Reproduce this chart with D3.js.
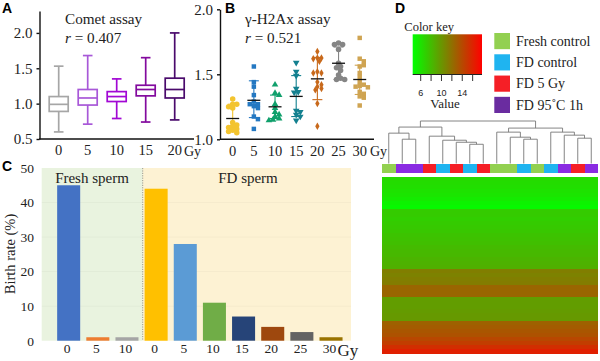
<!DOCTYPE html>
<html><head><meta charset="utf-8">
<script src="https://cdn.jsdelivr.net/npm/d3@7/dist/d3.min.js"></script>
<style>
html,body{margin:0;padding:0;background:#fff}
svg{display:block}
text{font-family:"Liberation Serif",serif;fill:#222}
.letter{font-family:"Liberation Sans",sans-serif;font-weight:700;font-size:14px;fill:#000}
.axis text{font-family:"Liberation Serif",serif;fill:#222}
.axis path,.axis line{stroke:#111}
</style></head><body>
<svg id="c" width="600" height="361"></svg>
<script>
// ---- Panel A
const doseA = ["0","5","10","15","20"];
const whiskerLowA  = [0.60,0.71,0.79,0.74,0.77];
const q1A          = [0.89,0.98,1.03,1.11,1.08];
const medianA      = [0.99,1.08,1.10,1.20,1.20];
const q3A          = [1.10,1.20,1.17,1.26,1.36];
const whiskerHighA = [1.53,1.68,1.35,1.65,2.00];
const colorsA = ["#a6a6a6","#a858d8","#a208d4","#830a9e","#4a0a6c"];
const ticksA = [0.5,1.0,1.5,2.0];

// ---- Panel B
const doseB = ["0","5","10","15","20","25","30"];
const pointsB = [
 [1.31,1.27,1.27,1.25,1.24,1.13,1.11,1.10,1.09,1.08,1.07,1.06,1.05],
 [1.56,1.44,1.405,1.34,1.29,1.27,1.27,1.255,1.24,1.175,1.155,1.08],
 [1.42,1.355,1.34,1.27,1.24,1.21,1.19,1.175,1.16,1.15,1.145],
 [1.59,1.52,1.49,1.39,1.365,1.36,1.22,1.21,1.19,1.175,1.145],
 [1.675,1.625,1.625,1.62,1.60,1.52,1.51,1.51,1.44,1.42,1.405,1.39,1.38,1.275,1.10],
 [1.74,1.73,1.73,1.69,1.585,1.56,1.55,1.53,1.495,1.47,1.46,1.46],
 [1.78,1.62,1.60,1.56,1.57,1.51,1.48,1.44,1.42,1.41,1.405,1.40,1.365,1.35,1.33,1.32,1.26]
];
const meanB = [1.16,1.30,1.25,1.33,1.465,1.585,1.46];
const sdLowB  = [1.06,1.167,1.16,1.175,1.305,1.46,1.345];
const sdHighB = [1.27,1.45,1.34,1.49,1.63,1.71,1.57];
const colorsB = ["#f3c42f","#2478c2","#10a06c","#13808f","#c8691b","#858585","#cfa452"];
const shapesB = ["circle","square","up","down","diamond","circle","square"];
const ticksB = [1.0,1.5,2.0];

// ---- Panel C
const doseC = ["0","5","10","0","5","10","15","20","25","30"];
const birthRate = [45,1,1,44,28,11,7,4,2.5,1];
const colorsC = ["#4472c4","#ed7d31","#a5a5a5","#ffc000","#5b9bd5","#70ad47","#264478","#9e480e","#636363","#997300"];
const ticksC = [0,10,20,30,40,50];

// ---- Panel D
const legendLabels = ["Fresh control","FD control","FD 5 Gy","FD 95˚C 1h"];
const legendColors = ["#92d050","#1fb4f0","#f51f26","#6a2ca0"];
const stripColors  = ["#92d050","#1fb4f0","#f51f26","#8a2be2"];
const sampleGroups = [0,3,3,2,1,2,1,2,0,0,1,0,1,3,2,3];
const keyTicks = [6,8,10,12,14,16];
const keyLabels = [6,10,14];
const rowValues = [6.4,6.3,6.2,6.0,5.8,5.5,5.1,4.8,
  7.2,7.2,7.0,7.2,7.3,
  7.4,7.6,7.7,7.8,8.0,8.1,8.2,8.4,8.5,8.6,
  11.2,11.0,11.2,11.3,
  12.5,12.5,12.5,
  9.6,9.6,9.6,9.7,9.8,9.8,
  12.7,13.0,13.3,13.5,14.1,14.6,15.4,16.2];
// merge heights of the sample dendrogram; leaves are column indices
const tree = {h:42,c:[
  {h:36,c:[
    {h:30,c:[{i:0},{h:24,c:[{i:1},{i:2}]}]},
    {h:27,c:[{i:3},{h:23,c:[{i:4},{h:21,c:[{i:5},{h:19,c:[{i:6},{i:7}]}]}]}]}
  ]},
  {h:35,c:[
    {h:31,c:[{i:8},{h:26,c:[{i:9},{h:24,c:[{i:10},{i:11}]}]}]},
    {h:31,c:[{i:12},{h:28,c:[{i:13},{h:25,c:[{i:14},{i:15}]}]}]}
  ]}
]};

const svg = d3.select("#c");
const txt = (g,x,y,s,size,anchor) => g.append("text").attr("x",x).attr("y",y).attr("font-size",size).attr("text-anchor",anchor||"start").text(s);
const letter = (x,y,s) => svg.append("text").attr("class","letter").attr("x",x).attr("y",y).text(s);

function axes(yScale, band, tickVals, baseX0, baseX1, axisX, axisY, fmt, size){
  const gy = svg.append("g").attr("class","axis").attr("transform",`translate(${axisX},0)`)
    .call(d3.axisLeft(yScale).tickValues(tickVals).tickFormat(fmt).tickSize(3).tickSizeOuter(0));
  gy.selectAll("text").attr("font-size",size).attr("dx",-1);
  gy.selectAll("path,line").attr("stroke-width",1.4);
  const gx = svg.append("g").attr("class","axis").attr("transform",`translate(0,${axisY})`)
    .call(d3.axisBottom(band).tickSize(0).tickPadding(6));
  gx.select("path").remove();
  gx.selectAll("text").attr("font-size",14.5);
  svg.append("line").attr("x1",baseX0).attr("x2",baseX1).attr("y1",axisY).attr("y2",axisY)
    .attr("stroke","#111").attr("stroke-width",1.4);
}

// ===== A =====
const yA = d3.scaleLinear().domain([0.5,2.31]).range([139,11]);
const xA = d3.scaleBand().domain(doseA).range([44.2,189.2]);
axes(yA,xA,ticksA,39,194,39.5,139,d3.format(".1f"),15);
letter(2,13,"A");
txt(svg,65,24,"Comet assay",15.2);
const rA = txt(svg,65,42.5,"",15.2);
rA.append("tspan").attr("font-style","italic").text("r");
rA.append("tspan").text(" = 0.407");
txt(svg,184,156,"Gy",14);
doseA.forEach((d,i)=>{
  const g = svg.append("g").attr("stroke",colorsA[i]).attr("fill","none").attr("stroke-width",1.7);
  const cx = xA(d)+xA.bandwidth()/2, bw=9.5, cw=4.8;
  g.append("line").attr("x1",cx).attr("x2",cx).attr("y1",yA(whiskerLowA[i])).attr("y2",yA(q1A[i]));
  g.append("line").attr("x1",cx).attr("x2",cx).attr("y1",yA(q3A[i])).attr("y2",yA(whiskerHighA[i]));
  [whiskerLowA[i],whiskerHighA[i],medianA[i]].forEach((v,k)=>{
    const w = k===2?bw:cw;
    g.append("line").attr("x1",cx-w).attr("x2",cx+w).attr("y1",yA(v)).attr("y2",yA(v));
  });
  g.append("rect").attr("x",cx-bw).attr("width",2*bw).attr("y",yA(q3A[i])).attr("height",yA(q1A[i])-yA(q3A[i]));
});

// ===== B =====
const yB = d3.scaleLinear().domain([1,2]).range([139.3,9.3]);
const xB = d3.scaleBand().domain(doseB).range([222.1,370.3]);
axes(yB,xB,ticksB,220,374,220,139.3,d3.format(".1f"),15);
letter(225,13,"B");
txt(svg,245,24,"γ-H2Ax assay",15.2);
const rB = txt(svg,245,42.5,"",15.2);
rB.append("tspan").attr("font-style","italic").text("r");
rB.append("tspan").text(" = 0.521");
txt(svg,370,156,"Gy",14);
const symbolFor = {
  circle:d3.symbol(d3.symbolCircle,24)(),
  square:d3.symbol(d3.symbolSquare,20)(),
  diamond:d3.symbol(d3.symbolDiamond,16)(),
  up:d3.symbol(d3.symbolTriangle,19)(),
  down:d3.symbol(d3.symbolTriangle,19)()
};
function dodge(vals, scale, gap){          // centred scatter-dot layout
  const placed=[];
  return vals.map(v=>{
    const y=scale(v);
    let k=0, dx=0;
    while(placed.some(p=>Math.hypot(p.dx-dx,p.y-y)<gap)){
      k++; dx=(k%2?1:-1)*Math.ceil(k/2)*gap*0.6;
    }
    placed.push({dx,y});
    return {dx,y};
  });
}
doseB.forEach((d,i)=>{
  const cx = xB(d)+xB.bandwidth()/2, col=colorsB[i], g=svg.append("g");
  g.append("line").attr("x1",cx).attr("x2",cx).attr("y1",yB(sdLowB[i])).attr("y2",yB(sdHighB[i])).attr("stroke",col).attr("stroke-width",1.1);
  [sdLowB[i],sdHighB[i]].forEach(v=>g.append("line").attr("x1",cx-5).attr("x2",cx+5).attr("y1",yB(v)).attr("y2",yB(v)).attr("stroke",col).attr("stroke-width",1.1));
  dodge(pointsB[i],yB,3.4).forEach(p=>{
    const rot = shapesB[i]==="down"?" rotate(180)":"";
    g.append("path").attr("d",symbolFor[shapesB[i]]).attr("fill",col)
      .attr("transform",`translate(${cx+p.dx},${p.y})${rot}`);
  });
  g.append("line").attr("x1",cx-6.5).attr("x2",cx+6.5).attr("y1",yB(meanB[i])).attr("y2",yB(meanB[i])).attr("stroke","#111").attr("stroke-width",1.3);
});

// ===== C =====
const yC = d3.scaleLinear().domain([0,50]).range([340.7,168]);
const keysC = doseC.map((d,i)=>i);
const xC = d3.scaleBand().domain(keysC).range([54.1,345.6]).paddingInner(0.21).paddingOuter(0.105);
svg.append("rect").attr("x",41.7).attr("y",yC(50)).attr("width",101).attr("height",yC(0)-yC(50)).attr("fill","#e9f3df");
svg.append("rect").attr("x",142.7).attr("y",yC(50)).attr("width",208.3).attr("height",yC(0)-yC(50)).attr("fill","#fdf2d3");
ticksC.slice(1,5).forEach(t=>svg.append("line").attr("x1",41.7).attr("x2",351).attr("y1",yC(t)).attr("y2",yC(t)).attr("stroke","#000").attr("stroke-opacity",0.03));
svg.append("line").attr("x1",142.7).attr("x2",142.7).attr("y1",yC(50)).attr("y2",yC(0)).attr("stroke","#9a9a8a").attr("stroke-dasharray","1.2 1.2");
const gyC = svg.append("g").attr("class","axis").attr("transform","translate(37,0)")
  .call(d3.axisLeft(yC).tickValues(ticksC).tickSize(0).tickPadding(3));
gyC.select("path").remove();
gyC.selectAll("text").attr("font-size",13.5);
svg.selectAll("rect.bar").data(birthRate).enter().append("rect").attr("class","bar")
  .attr("x",(d,i)=>xC(i)).attr("width",xC.bandwidth()).attr("y",d=>yC(d)).attr("height",d=>yC(0)-yC(d))
  .attr("fill",(d,i)=>colorsC[i]);
const gxC = svg.append("g").attr("class","axis").attr("transform","translate(0,340.7)")
  .call(d3.axisBottom(xC).tickSize(0).tickPadding(3).tickFormat(i=>doseC[i]));
gxC.select("path").remove();
gxC.selectAll("text").attr("font-size",13.5).attr("dx",-1.5);
letter(2,171,"C");
txt(svg,92,183,"Fresh sperm",15,"middle");
txt(svg,248,183,"FD sperm",15,"middle");
txt(svg,337.5,356,"Gy",17);
svg.append("text").attr("transform","translate(15,254) rotate(-90)").attr("text-anchor","middle").attr("font-size",14.5).text("Birth rate (%)");

// ===== D =====
letter(395,13,"D");
txt(svg,404.3,31,"Color key",12.5);
const keyX = d3.scaleLinear().domain([4.46,17.8]).range([412.7,482]);
const color = d3.scaleLinear().domain([4.46,17.8]).range(["#00ff00","#ff0000"]);
const defs = svg.append("defs").append("linearGradient").attr("id","key");
d3.range(0,1.01,0.1).forEach(t=>defs.append("stop").attr("offset",t).attr("stop-color",color(4.46+t*13.34)));
svg.append("rect").attr("x",keyX(4.46)).attr("y",34.3).attr("width",keyX(17.8)-keyX(4.46)).attr("height",40).attr("fill","url(#key)");
svg.append("line").attr("x1",412.7).attr("x2",482).attr("y1",74.5).attr("y2",74.5).attr("stroke","#222").attr("stroke-width",1);
keyTicks.forEach(t=>svg.append("line").attr("x1",keyX(t)).attr("x2",keyX(t)).attr("y1",74.5).attr("y2",81).attr("stroke","#333"));
keyLabels.forEach(t=>svg.append("text").attr("x",keyX(t)).attr("y",96).attr("text-anchor","middle")
  .attr("font-size",9).style("font-family","Liberation Sans").text(t));
txt(svg,445,108,"Value",13,"middle");
const legY = d3.scaleBand().domain(legendLabels).range([33,113]).paddingInner(0.24);
legendLabels.forEach((l,i)=>{
  svg.append("rect").attr("x",494.3).attr("y",legY(l)).attr("width",15.7).attr("height",legY.bandwidth()).attr("fill",legendColors[i]);
  txt(svg,516,legY(l)+legY.bandwidth()/2+4.7,l,14);
});

const colX = d3.scaleBand().domain(d3.range(sampleGroups.length)).range([382,598]);
svg.selectAll("rect.strip").data(sampleGroups).enter().append("rect").attr("class","strip")
  .attr("x",(d,i)=>colX(i)).attr("y",163.7).attr("width",colX.bandwidth()).attr("height",9.6)
  .attr("fill",d=>stripColors[d]).attr("shape-rendering","crispEdges");

// dendrogram
const hY = d3.scaleLinear().domain([0,42]).range([163.5,121]);
const root = d3.hierarchy(tree,d=>d.c);
root.eachAfter(n=>{
  if(n.children){ n.px=d3.mean(n.children,c=>c.px); n.py=hY(n.data.h); }
  else { n.px=colX(n.data.i)+colX.bandwidth()/2; n.py=hY(0); }
});
const dend = svg.append("g").attr("fill","none").attr("stroke","#777").attr("stroke-width",0.9);
root.descendants().filter(n=>n.children).forEach(n=>{
  const [a,b]=n.children;
  dend.append("path").attr("d",d3.line()([[a.px,a.py],[a.px,n.py],[b.px,n.py],[b.px,b.py]]));
});

// heatmap
const rowY = d3.scaleBand().domain(d3.range(rowValues.length)).range([176.7,353.3]);
svg.selectAll("rect.row").data(rowValues).enter().append("rect").attr("class","row")
  .attr("x",382).attr("width",216).attr("y",(d,i)=>rowY(i)).attr("height",rowY.bandwidth()+0.5)
  .attr("fill",d=>color(d)).attr("shape-rendering","crispEdges");
</script>
</body></html>
